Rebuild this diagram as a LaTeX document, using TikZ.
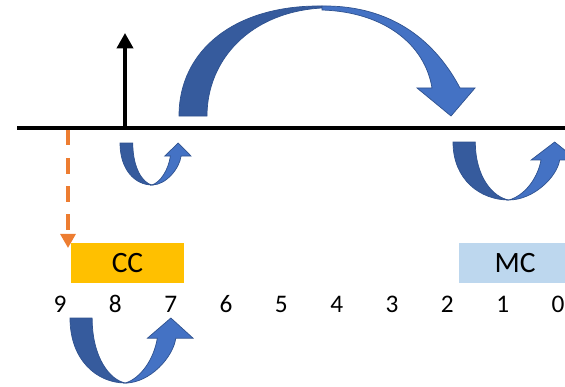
\documentclass[tikz,border=0pt]{standalone}
\usepackage{fontspec}
\setmainfont{Carlito}
\usetikzlibrary{arrows.meta}

\definecolor{ccgold}{HTML}{FFC000}
\definecolor{mcblue}{HTML}{BDD7EE}
\definecolor{backblue}{HTML}{365B9D}
\definecolor{frontblue}{HTML}{4472C4}
\definecolor{edgeblue}{HTML}{2F528F}
\definecolor{droporange}{HTML}{ED7D31}

\tikzset{
	regbox/.style={minimum width=2.8cm, minimum height=1cm, inner sep=0pt, font=\fontsize{21}{24}\selectfont},
	digit/.style={inner sep=0pt, font=\fontsize{18}{21}\selectfont},
	backpart/.style={fill=backblue, draw=edgeblue, line width=0.5pt},
	frontpart/.style={fill=frontblue, draw=edgeblue, line width=0.5pt}
}

\newcommand{\uturnarrow}[4]{%
	\begin{scope}[shift={(#1,#2)}, xscale=#3, yscale=#4]
		\path[backpart] (0,0) -- (0.18,0) .. controls (0.18,0.6) and (0.32,0.95) .. (0.45,1)
			.. controls (0.22,1) and (0,0.65) .. (0,0) -- cycle;
		\path[frontpart] (0.45,1) .. controls (0.65,1) and (0.84,0.6) .. (0.86,0.31)
			-- (1,0.31) -- (0.82,0) -- (0.63,0.31) -- (0.71,0.31)
			.. controls (0.68,0.65) and (0.57,0.93) .. (0.45,1) -- cycle;
	\end{scope}}

\begin{document}
\begin{tikzpicture}[x=0.025cm, y=-0.025cm]
				\useasboundingbox (0,0) rectangle (565,387);
				\clip (0,0) rectangle (565,387);

				\coordinate (LineL) at (17,128);
				\coordinate (LineR) at (565,128);
				\draw [line width=2.4pt] (LineL) -- (LineR);

				\coordinate (Foot) at (125,128);
				\coordinate (Head) at (125,33);
				\draw [line width=2.6pt, -{Triangle[length=11pt, width=11.5pt]}] (Foot) -- (Head);

				\path[backpart] (179,116) .. controls (179,50) and (235,5) .. (322,6) -- (322,8)
					.. controls (250,12) and (207,60) .. (207,116) -- cycle;
				\path[frontpart] (322,6) .. controls (400,5) and (440,50) .. (460,88)
					-- (475,88) -- (451,116) -- (417,88) -- (432,88)
					.. controls (425,45) and (385,12) .. (322,10) -- cycle;

				\uturnarrow{120}{143}{71}{42}
				\uturnarrow{453}{142}{124}{58}
				\uturnarrow{70}{318}{123}{65}

				\coordinate (DropTop) at (68,130);
				\coordinate (DropTip) at (68,248);
				\draw [droporange, line width=2.3pt, dash pattern=on 11pt off 9pt, -{Triangle[length=10pt, width=10.6pt]}] (DropTop) -- (DropTip);

				\node (CC) [regbox, fill=ccgold] at (127.5,263) {CC};
				\node (MC) [regbox, fill=mcblue] at (515,263) {MC};

				\node (N9) [digit] at (60,304) {9};
				\node (N8) [digit] at (115.3,304) {8};
				\node (N7) [digit] at (170.7,304) {7};
				\node (N6) [digit] at (226,304) {6};
				\node (N5) [digit] at (281.3,304) {5};
				\node (N4) [digit] at (336.7,304) {4};
				\node (N3) [digit] at (392,304) {3};
				\node (N2) [digit] at (447.3,304) {2};
				\node (N1) [digit] at (502.7,304) {1};
				\node (N0) [digit] at (558,304) {0};
			\end{tikzpicture}
\end{document}
